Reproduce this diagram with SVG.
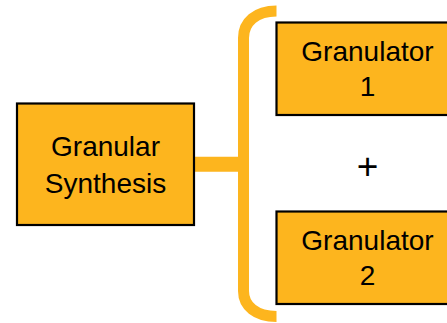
<svg xmlns="http://www.w3.org/2000/svg" width="447" height="323" viewBox="0 0 447 323">
<style>
.box{fill:#FDB51E;stroke:#000;stroke-width:2.2}
.lbl{font-family:"Liberation Sans",Arial,sans-serif;font-size:28px;fill:#000;text-anchor:middle}
.conn{fill:none;stroke:#FDB51E}
</style>
<g id="connectors">
<path class="conn" d="M194 164.3H243" stroke-width="15"/>
<path class="conn" d="M276.5 11C256 11 243.5 22 243.5 38V291C243.5 306 256 316.5 276.5 316.5" stroke-width="11"/>
</g>
<g id="granular-synthesis">
<rect class="box" x="17" y="103.5" width="177" height="121.5"/>
<text class="lbl" x="105.5" y="155.5">Granular</text>
<text class="lbl" x="105.5" y="193">Synthesis</text>
</g>
<g id="granulator-1">
<rect class="box" x="276.5" y="22.5" width="185" height="92.5"/>
<text class="lbl" x="367.5" y="60.5">Granulator</text>
<text class="lbl" x="367.5" y="95.5">1</text>
</g>
<g id="plus">
<text class="lbl" x="367.5" y="178.5" style="font-size:37px">+</text>
</g>
<g id="granulator-2">
<rect class="box" x="276.5" y="211.5" width="185" height="92.5"/>
<text class="lbl" x="367.5" y="250">Granulator</text>
<text class="lbl" x="367.5" y="285">2</text>
</g>
</svg>
